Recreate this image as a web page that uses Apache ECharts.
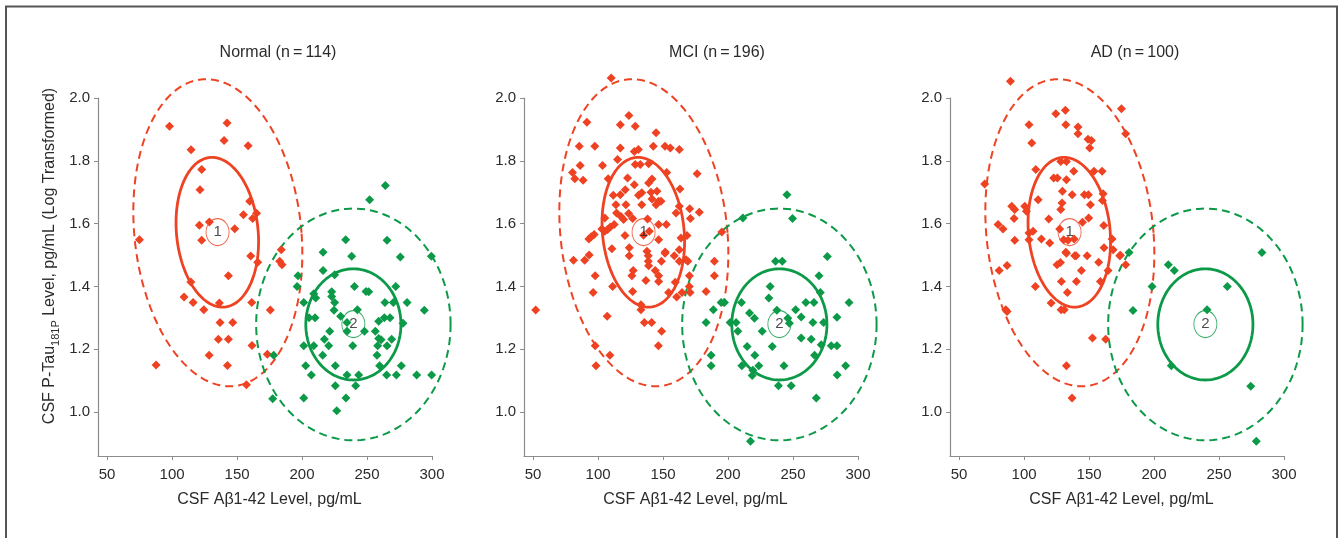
<!DOCTYPE html>
<html>
<head>
<meta charset="utf-8">
<script src="https://cdn.jsdelivr.net/npm/echarts@6/dist/echarts.min.js"></script>
<style>
html,body{margin:0;padding:0;background:#fff;}
#chart{width:1343px;height:538px;}
</style>
</head>
<body>
<div id="chart"></div>
<script>
// ---- text ----
const panelTitles = ['Normal (n\u2009=\u2009114)', 'MCI (n\u2009=\u2009196)', 'AD (n\u2009=\u2009100)'];
const xAxisTitle = 'CSF A\u03B21-42 Level, pg/mL';
const xTicks = [50, 100, 150, 200, 250, 300];
const yTicks = [1.0, 1.2, 1.4, 1.6, 1.8, 2.0];
const clusterLabels = ['1', '2'];

// ---- observations: [CSF Abeta1-42, log CSF p-tau181p] ----
// cluster 1 (red) and cluster 2 (green) members per diagnostic group
const normalRed = [
  [98,1.91],[142.3,1.92],[114.6,1.835],[140,1.865],[158.5,1.848],[122.8,1.772],[121.5,1.708],[159.7,1.671],
  [154.9,1.628],[162,1.616],[165,1.633],[121,1.595],[128.7,1.605],[122.8,1.547],[148.2,1.584],[74.9,1.549],
  [160.5,1.497],[184,1.517],[165.9,1.477],[182.8,1.48],[184.6,1.469],[114.4,1.414],[143.3,1.434],[109.2,1.366],
  [116.2,1.349],[124.4,1.326],[136.4,1.347],[161.3,1.349],[175.6,1.325],[136.9,1.285],[146.7,1.285],[135.6,1.232],
  [143.3,1.232],[161.5,1.212],[128.5,1.181],[173.3,1.184],[87.7,1.15],[142.6,1.148],[157.2,1.087]
];
const normalGreen = [
  [252,1.676],[264.1,1.721],[233.6,1.549],[265.4,1.547],[216.2,1.509],[238.2,1.496],[275.6,1.494],[299.5,1.496],
  [216.2,1.451],[196.9,1.434],[196.2,1.40],[225.1,1.437],[240.3,1.40],[272.1,1.40],[209,1.377],[210.5,1.363],
  [222.8,1.383],[222.8,1.368],[249.2,1.384],[251.3,1.383],[201.3,1.349],[225.1,1.349],[263.8,1.349],[280.8,1.349],
  [270.3,1.349],[224.6,1.324],[242.6,1.326],[294.1,1.324],[205.4,1.30],[210,1.30],[229.7,1.305],[263.3,1.30],
  [267.7,1.30],[234.6,1.285],[259,1.289],[277.7,1.283],[248,1.257],[234.6,1.257],[221.3,1.257],[256.4,1.257],
  [259,1.234],[217.2,1.232],[260.8,1.23],[269,1.232],[201.3,1.211],[209,1.211],[220.5,1.211],[239,1.211],
  [258.2,1.211],[265.4,1.211],[215.9,1.181],[257.7,1.181],[178.2,1.181],[202.8,1.147],[225.6,1.147],[259.7,1.147],
  [276.4,1.147],[207.2,1.118],[234.6,1.118],[243.6,1.118],[265.1,1.118],[272.6,1.118],[288.2,1.118],[299.7,1.118],
  [225.6,1.084],[241.3,1.084],[177.4,1.042],[201.3,1.045],[233.8,1.045],[226.7,1.004]
];
const mciRed = [
  [110.1,2.064],[91.4,1.923],[123.7,1.944],[117.1,1.915],[128.6,1.91],[144.6,1.889],[85.5,1.846],[97.5,1.846],
  [117.1,1.841],[127.9,1.83],[131,1.836],[142.5,1.846],[151.5,1.846],[155.6,1.841],[162.5,1.836],[86.2,1.785],
  [80.3,1.763],[82.1,1.743],[88.5,1.738],[103.4,1.785],[115,1.804],[107.8,1.743],[128.6,1.788],[132.5,1.788],
  [138.9,1.791],[152.8,1.763],[176.2,1.759],[122.7,1.745],[141.5,1.742],[127.9,1.724],[138.9,1.729],[120.9,1.708],
  [111.7,1.69],[117.1,1.692],[131.1,1.69],[133.6,1.698],[140.7,1.7],[145.3,1.703],[163,1.71],[113.7,1.66],
  [121.4,1.66],[133.6,1.66],[141.5,1.678],[146.6,1.671],[144.6,1.66],[148.4,1.671],[162.5,1.655],[170.5,1.647],
  [177.9,1.636],[171,1.616],[160,1.634],[114.2,1.634],[117.6,1.623],[119.6,1.613],[123.5,1.632],[126.6,1.616],
  [138.1,1.615],[105.2,1.618],[112.4,1.597],[109.4,1.589],[107.3,1.581],[102.9,1.583],[105.2,1.576],[146.6,1.597],
  [152.5,1.597],[139.4,1.576],[97,1.565],[94.7,1.558],[92.9,1.551],[120.7,1.562],[135,1.563],[146.6,1.549],
  [163.8,1.554],[168.4,1.562],[195.2,1.573],[110.6,1.52],[124,1.523],[137.6,1.512],[151.7,1.51],[162.5,1.517],
  [81.1,1.483],[89.7,1.483],[93.1,1.5],[167.7,1.485],[124,1.498],[138.6,1.498],[151.5,1.506],[158.6,1.498],
  [97.8,1.434],[111.2,1.4],[96.2,1.381],[126,1.434],[127,1.451],[138.6,1.48],[138.9,1.466],[148.7,1.48],
  [144,1.451],[146.6,1.434],[146.6,1.416],[136.8,1.419],[126.6,1.384],[154.3,1.381],[159.4,1.413],[160.5,1.366],
  [164.6,1.381],[162.5,1.48],[169,1.48],[170.3,1.434],[170.2,1.4],[170.8,1.381],[189.5,1.48],[189.5,1.434],
  [183.1,1.384],[133,1.342],[133,1.326],[135.6,1.285],[141.2,1.285],[148.9,1.257],[146.4,1.211],[107,1.305],
  [97.8,1.211],[98.4,1.147],[109.1,1.181],[52,1.325]
];
const mciGreen = [
  [211.4,1.618],[245.3,1.692],[249.6,1.616],[236.5,1.48],[241.7,1.48],[276.4,1.495],[270,1.434],[232.4,1.4],
  [231.4,1.363],[271,1.381],[194.7,1.349],[197.3,1.349],[188.7,1.326],[210.3,1.349],[216.5,1.315],[220.3,1.299],
  [237.6,1.324],[252,1.326],[259.9,1.349],[266.1,1.349],[256.3,1.303],[293.1,1.349],[283.8,1.302],[183.1,1.285],
  [201.6,1.285],[206.2,1.285],[207.5,1.257],[226.3,1.257],[246,1.299],[247.2,1.283],[265.3,1.285],[273.5,1.285],
  [256.3,1.236],[264,1.232],[214.7,1.209],[234,1.209],[271.7,1.214],[279.4,1.211],[283.8,1.211],[187,1.181],
  [220.6,1.181],[266.6,1.181],[187,1.147],[210.6,1.147],[223.7,1.147],[243,1.147],[290.5,1.147],[218.6,1.116],
  [219.1,1.133],[284,1.118],[238.8,1.084],[248.6,1.084],[267.9,1.045],[217.3,0.907]
];
const adRed = [
  [89.5,2.053],[124.4,1.95],[131.8,1.961],[174.9,1.966],[132.1,1.915],[141.5,1.908],[141.5,1.886],[149.2,1.869],
  [151.8,1.865],[150.5,1.841],[178.2,1.886],[103.8,1.915],[105.9,1.857],[109,1.772],[128.2,1.798],[132.6,1.798],
  [138.2,1.767],[153.8,1.767],[160,1.767],[122.8,1.745],[125.6,1.745],[132.6,1.74],[129.5,1.703],[137,1.692],
  [146.4,1.692],[149.5,1.692],[160.8,1.695],[160.3,1.674],[110.8,1.676],[129.2,1.666],[128.2,1.645],[151,1.66],
  [90.5,1.655],[92.8,1.645],[100.5,1.655],[101.8,1.639],[92.3,1.616],[69.7,1.726],[80,1.597],[83.8,1.583],
  [92.8,1.547],[103.8,1.57],[106.9,1.576],[103.8,1.549],[113.3,1.551],[119,1.615],[119.7,1.538],[127.4,1.583],
  [130.5,1.549],[133.8,1.547],[138.5,1.551],[144.9,1.604],[149.7,1.618],[161.3,1.594],[167.7,1.551],[161.5,1.523],
  [168.5,1.517],[174.1,1.499],[132.1,1.509],[139,1.498],[80.8,1.451],[86.9,1.467],[125.4,1.469],[128,1.476],
  [144.1,1.451],[157.4,1.477],[164.6,1.451],[173.6,1.498],[178.2,1.469],[132.6,1.506],[140,1.498],[148.5,1.498],
  [108.7,1.4],[128.7,1.416],[140.3,1.416],[158.7,1.416],[133.3,1.381],[120.8,1.347],[128.5,1.326],[130.9,1.326],
  [85.9,1.326],[86.9,1.32],[152.6,1.236],[162.8,1.232],[132.6,1.147],[136.9,1.045]
];
const adGreen = [
  [283,1.508],[180.8,1.508],[211,1.469],[215.6,1.451],[198.5,1.4],[256.4,1.4],[183.8,1.323],[240.8,1.326],
  [213.3,1.147],[274.4,1.082],[278.7,0.907]
];

// ---- fitted cluster contours: centre, horizontal radius, shear, vertical radius ----
const cluster1Inner = {cx: 134.8, cy: 1.5725, rx: 31.5, sx: -4, ry: 0.2385};
const cluster1Outer = {cx: 135.2, cy: 1.571, rx: 64.4, sx: -9, ry: 0.489};
const cluster2Inner = {cx: 239.5, cy: 1.279, rx: 36.6, sx: 0, ry: 0.177};
const cluster2Outer = {cx: 239.5, cy: 1.279, rx: 74.8, sx: 0, ry: 0.369};
const clusterCentres = [[135, 1.573], [239.5, 1.28]];

const panels = [
  {title: panelTitles[0], red: normalRed, green: normalGreen},
  {title: panelTitles[1], red: mciRed, green: mciGreen},
  {title: panelTitles[2], red: adRed, green: adGreen}
];

// ---- style ----
const RED = '#ee4223';
const GREEN = '#0c9a48';
const TEXT = '#2b2b2b';
const AXIS = '#8c8c8c';
const FONT = '"Liberation Sans", Arial, sans-serif';
const gridLefts = [98, 524, 950];
const gridTop = 98;
const gridW = 334;
const gridH = 358;

function contourPoints(e) {
  const pts = [];
  const n = 160;
  for (let i = 0; i <= n; i++) {
    const t = 2 * Math.PI * i / n;
    pts.push([e.cx + e.rx * Math.cos(t) + e.sx * Math.sin(t), e.cy + e.ry * Math.sin(t)]);
  }
  return pts;
}

// contour drawn through the panel's own axes, allowed to run past the plot edge
function contourSeries(i, e, color, width, dash) {
  return {
    type: 'custom', xAxisIndex: i, yAxisIndex: i, coordinateSystem: 'cartesian2d',
    data: [[e.cx, e.cy]], silent: true, animation: false, clip: false, z: 2,
    renderItem: (params, api) => ({
      type: 'polyline',
      shape: {points: contourPoints(e).map(d => api.coord(d))},
      style: {stroke: color, lineWidth: width, lineDash: dash, fill: null}
    })
  };
}

const grids = [], xAxes = [], yAxes = [], series = [], graphics = [];

panels.forEach((p, i) => {
  grids.push({left: gridLefts[i], top: gridTop, width: gridW, height: gridH, containLabel: false});
  xAxes.push({
    type: 'value', gridIndex: i, min: 43, max: 300,
    name: xAxisTitle, nameLocation: 'middle', nameGap: 36,
    nameTextStyle: {fontFamily: FONT, fontSize: 16, color: TEXT, padding: [0, 0, 0, 9]},
    axisLine: {show: true, onZero: false, lineStyle: {color: AXIS, width: 1.2}},
    axisTick: {show: true, length: 4, customValues: xTicks, lineStyle: {color: AXIS}},
    axisLabel: {customValues: xTicks, margin: 11, fontFamily: FONT, fontSize: 15, color: TEXT},
    splitLine: {show: false}
  });
  yAxes.push({
    type: 'value', gridIndex: i, min: 0.86, max: 2.0,
    axisLine: {show: true, onZero: false, lineStyle: {color: AXIS, width: 1.2}},
    axisTick: {show: true, length: 4, customValues: yTicks, lineStyle: {color: AXIS}},
    axisLabel: {customValues: yTicks, margin: 8, fontFamily: FONT, fontSize: 15, color: TEXT,
      formatter: v => v.toFixed(1)},
    splitLine: {show: false}
  });

  series.push(contourSeries(i, cluster1Outer, RED, 2, [8, 5]));
  series.push(contourSeries(i, cluster2Outer, GREEN, 2, [8, 5]));
  series.push(contourSeries(i, cluster1Inner, RED, 2.8, null));
  series.push(contourSeries(i, cluster2Inner, GREEN, 2.8, null));

  series.push({type: 'scatter', xAxisIndex: i, yAxisIndex: i, data: p.red, symbol: 'diamond',
    symbolSize: 9, clip: false, itemStyle: {color: RED, opacity: 1}, animation: false, z: 3});
  series.push({type: 'scatter', xAxisIndex: i, yAxisIndex: i, data: p.green, symbol: 'diamond',
    symbolSize: 9, clip: false, itemStyle: {color: GREEN, opacity: 1}, animation: false, z: 3});

  // numbered cluster centres
  [RED, GREEN].forEach((c, k) => {
    series.push({type: 'scatter', xAxisIndex: i, yAxisIndex: i, data: [clusterCentres[k]],
      symbol: 'circle', symbolSize: [23, 27], clip: false, animation: false, z: 4,
      itemStyle: {color: 'rgba(255,255,255,0)', borderColor: c, borderWidth: 1},
      label: {show: true, position: 'inside', formatter: clusterLabels[k],
        fontFamily: FONT, fontSize: 15, color: '#222'}});
  });

  graphics.push({type: 'text', x: [278, 717, 1135][i], y: 53, style: {
    text: p.title, fontFamily: FONT, fontSize: 16, fill: TEXT, align: 'center', verticalAlign: 'middle'}});
});

// y-axis title with subscript
graphics.push({
  type: 'text', x: 48, y: 256, rotation: Math.PI / 2,
  style: {
    text: '{m|CSF P-Tau}{s|181P}{m| Level, pg/mL (Log Transformed)}',
    align: 'center', verticalAlign: 'middle', fill: TEXT, fontFamily: FONT,
    rich: {
      m: {fontFamily: FONT, fontSize: 16, fill: TEXT, lineHeight: 20, verticalAlign: 'bottom'},
      s: {fontFamily: FONT, fontSize: 11, fill: TEXT, lineHeight: 11, verticalAlign: 'bottom', padding: [0, 0, -3, 0]}
    }
  }
});

// figure frame (open at the bottom)
graphics.push({type: 'polyline', shape: {points: [[6, 538], [6, 6.5], [1337, 6.5], [1337, 538]]},
  style: {stroke: '#555', lineWidth: 2, fill: null}});

const chart = echarts.init(document.getElementById('chart'), null, {renderer: 'canvas'});
chart.setOption({
  animation: false,
  backgroundColor: '#fff',
  grid: grids,
  xAxis: xAxes,
  yAxis: yAxes,
  series: series,
  graphic: graphics
});
</script>
</body>
</html>
